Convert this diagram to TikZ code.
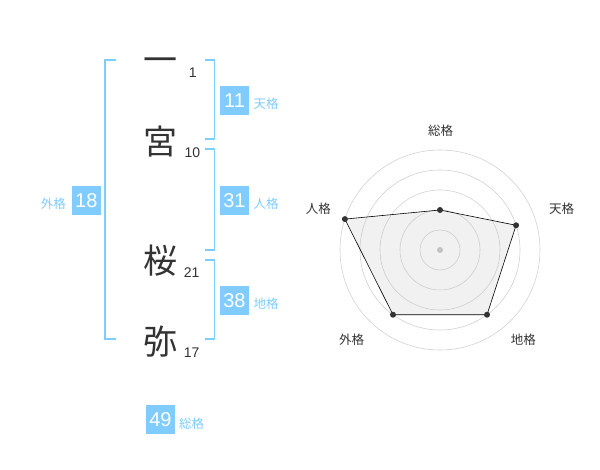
\documentclass[tikz,border=0pt]{standalone}
\usepackage{fontspec}
\setmainfont{Liberation Sans}
\newfontfamily\jpfont{Noto Sans CJK JP}
\definecolor{kakublue}{RGB}{128,204,255}
\definecolor{inkgray}{RGB}{51,51,51}

\begin{document}
\begin{tikzpicture}[x = 1pt, y = 1pt, font = \fontsize{13}{13}\selectfont,
	kanji/.style = {text = inkgray, inner sep = 0pt, font = \jpfont\fontsize{34}{34}\selectfont},
	strokes/.style = {text = inkgray, inner sep = 0pt, font = \fontsize{14}{14}\selectfont},
	score/.style = {fill = kakublue, text = white, minimum size = 29pt, inner sep = 0pt, font = \fontsize{20}{20}\selectfont},
	kaku/.style = {text = kakublue, inner sep = 0pt, font = \jpfont\fontsize{12.5}{12.5}\selectfont},
	bracket/.style = {draw = kakublue, line width = 1.6pt},
	ring/.style = {draw = gray!35, line width = 0.6pt},
	axis/.style = {text = inkgray, inner sep = 0pt, font = \jpfont\fontsize{12.5}{12.5}\selectfont}]

\useasboundingbox (0, 0) rectangle (600, -470);

% name, one character per row
\node [kanji] (ichi) at (160, -65) {一};
\node [kanji] (miya) at (160, -141.7) {宮};
\node [kanji] (sakura) at (160, -260.8) {桜};
\node [kanji] (ya) at (160, -341.7) {弥};

\node [strokes] (ichin) at (192.7, -72.7) {1};
\node [strokes] (miyan) at (192.3, -152.7) {10};
\node [strokes] (sakuran) at (191.7, -272.7) {21};
\node [strokes] (yan) at (191.7, -352.3) {17};

% brackets
\draw [bracket] (115.7, -60) -- (105, -60) -- (105, -339.3) -- (115.7, -339.3);
\draw [bracket] (205, -60) -- (214.3, -60) -- (214.3, -139.3) -- (205, -139.3);
\draw [bracket] (205, -149.3) -- (214.3, -149.3) -- (214.3, -250) -- (205, -250);
\draw [bracket] (205, -260) -- (214.3, -260) -- (214.3, -339.3) -- (205, -339.3);

% scores
\node [score] (ten) at (234.5, -100.5) {11};
\node [kaku] (tenl) at (266, -104) {天格};
\node [score] (jin) at (234.5, -200.5) {31};
\node [kaku] (jinl) at (266, -204) {人格};
\node [score] (chi) at (234.5, -300.5) {38};
\node [kaku] (chil) at (266, -304) {地格};
\node [score] (gai) at (86.3, -200.5) {18};
\node [kaku] (gail) at (53.3, -204) {外格};
\node [score] (sou) at (160.5, -419.5) {49};
\node [kaku] (soul) at (191.7, -423.3) {総格};

% radar
\begin{scope}[shift = {(440, -250)}]
	\foreach \r in {20, 40, 60, 80, 100}
		\draw [ring] (0, 0) circle (\r pt);
	\fill [gray!45] (0, 0) circle (3pt);

	\coordinate (rsou) at (90 : 40pt);
	\coordinate (rten) at (18 : 80pt);
	\coordinate (rchi) at (-54 : 80pt);
	\coordinate (rgai) at (-126 : 80pt);
	\coordinate (rjin) at (162 : 100pt);

	\draw [fill = gray!60, fill opacity = 0.18, draw = black, line width = 0.6pt] (rsou) -- (rten) -- (rchi) -- (rgai) -- (rjin) -- cycle;
	\foreach \p in {rsou, rten, rchi, rgai, rjin}
		\fill [inkgray] (\p) circle (3pt);
\end{scope}

\node [axis] (asou) at (440.7, -130.7) {総格};
\node [axis] (aten) at (561.7, -208.3) {天格};
\node [axis] (achi) at (523.3, -340) {地格};
\node [axis] (agai) at (351.7, -340) {外格};
\node [axis] (ajin) at (318.3, -208.3) {人格};

\end{tikzpicture}
\end{document}
